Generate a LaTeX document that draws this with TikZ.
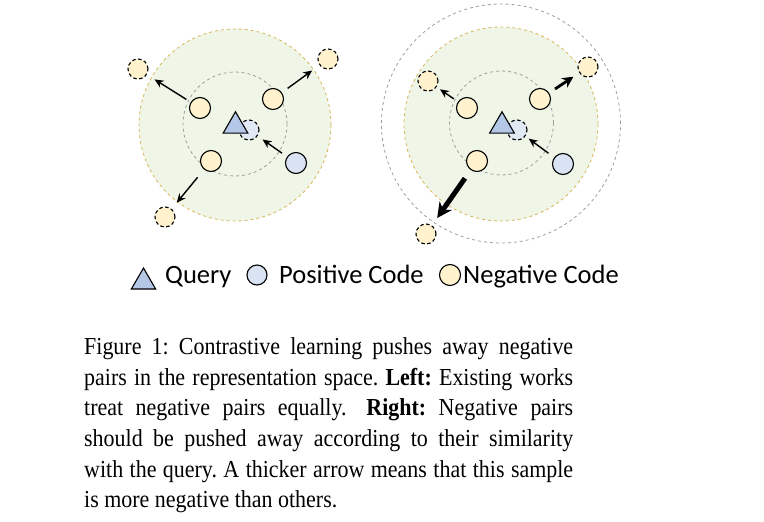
\documentclass[tikz,border=0pt]{standalone}
\usepackage{fontspec}
\setmainfont[FakeStretch=0.9]{Liberation Serif}
\newfontfamily\legendfont{Carlito}
\usetikzlibrary{shapes.geometric,arrows.meta}
\definecolor{spacegreen}{HTML}{EFF6E8}
\definecolor{spaceline}{HTML}{D6B656}
\definecolor{negfill}{HTML}{FFF2CC}
\definecolor{posfill}{HTML}{DAE3F3}
\definecolor{queryfill}{HTML}{B4C7E7}
\tikzset{
  space/.style = {circle, fill=spacegreen, draw=spaceline, dashed, line width=0.8pt},
  ring/.style = {circle, draw=black!38, dashed, line width=0.8pt},
  code/.style = {circle, draw=black, line width=1.1pt, inner sep=0pt, minimum size=21pt},
  negcode/.style = {code, fill=negfill},
  poscode/.style = {code, fill=posfill},
  ghost/.style = {dash pattern=on 3.5pt off 2.5pt},
  query/.style = {regular polygon, regular polygon sides=3, draw=black, fill=queryfill, line width=1.1pt, inner sep=0pt, minimum size=28.5pt},
  push/.style = {-{Stealth[length=9pt,width=8pt]}, line width=1.4pt},
  legendtext/.style = {anchor=base west, inner sep=0pt, font=\legendfont\fontsize{26.5}{30}\selectfont}
}
\begin{document}
\begin{tikzpicture}[x=1pt, y=-1pt]
\useasboundingbox (0,0) rectangle (764,522);
% left: all negatives pushed equally
\node [space, minimum size=192pt] (sl) at (235,125) {};
\node [ring, minimum size=104pt] (rl) at (235,124) {};
\node [poscode, ghost, fill=posfill!80!white, minimum size=20pt] (gl) at (249,130) {};
\node [query] (ql) at (235.5,126) {};
\node [negcode] (al) at (200,108) {};
\node [negcode] (bl) at (273,99) {};
\node [negcode] (cl) at (211,161) {};
\node [poscode] (pl) at (296,163) {};
\node [negcode, ghost, minimum size=20pt] (al') at (138,69) {};
\node [negcode, ghost, minimum size=20pt] (bl') at (328,59) {};
\node [negcode, ghost, minimum size=20pt] (cl') at (165,217) {};
\draw [push, shorten <=5pt, shorten >=9pt] (al) -- (al');
\draw [push, shorten <=7pt, shorten >=9pt] (bl) -- (bl');
\draw [push, shorten <=10pt, shorten >=8pt] (cl) -- (cl');
\draw [push, shorten <=6pt, shorten >=6pt] (pl) -- (gl);
% right: harder negatives pushed further
\node [ring, minimum size=239pt] (ol) at (501,123.5) {};
\node [space, minimum size=194pt] (sr) at (501,124) {};
\node [ring, minimum size=104pt] (rr) at (501.5,123) {};
\node [poscode, ghost, fill=posfill!80!white, minimum size=20pt] (gr) at (517,130) {};
\node [query] (qr) at (502,126) {};
\node [negcode] (ar) at (467,108) {};
\node [negcode] (br) at (540,99) {};
\node [negcode] (cr) at (477,161) {};
\node [poscode] (pr) at (563,164) {};
\node [negcode, ghost, minimum size=20pt] (ar') at (428,81) {};
\node [negcode, ghost, minimum size=20pt] (br') at (588,67) {};
\node [negcode, ghost, minimum size=20pt] (cr') at (426,234) {};
\draw [push, shorten <=5pt, shorten >=4pt] (ar) -- (ar');
\draw [push, -{Stealth[length=11pt,width=11pt]}, line width=2.8pt, shorten <=7pt, shorten >=7pt] (br) -- (br');
\draw [push, -{Stealth[length=15pt,width=15pt]}, line width=5pt, shorten <=10pt, shorten >=9pt] (cr) -- (cr');
\draw [push, shorten <=7pt, shorten >=4pt] (pr) -- (gr);
% legend
\node [query, minimum size=28pt] (lq) at (143.5,282) {};
\node [legendtext] (tq) at (165,283) {Query};
\node [poscode, minimum size=20pt] (lp) at (257,275) {};
\node [legendtext] (tp) at (279,283) {Positive Code};
\node [negcode, minimum size=21pt] (ln) at (450,275) {};
\node [legendtext] (tn) at (463,283) {Negative Code};
% caption
\node [anchor=north west, inner sep=0pt, text width=489pt, align=justify,
  font=\fontsize{24.4}{30.6}\selectfont\frenchspacing] (cap) at (84,337.5) {Figure 1: Contrastive learning pushes away negative\linebreak
pairs in the representation space. \textbf{Left:} Existing works\linebreak
treat negative pairs equally.\hspace{0.3em} \textbf{Right:} Negative pairs\linebreak
should be pushed away according to their similarity\linebreak
with the query. A thicker arrow means that this sample\linebreak
is more negative than others.};
\end{tikzpicture}
\end{document}
